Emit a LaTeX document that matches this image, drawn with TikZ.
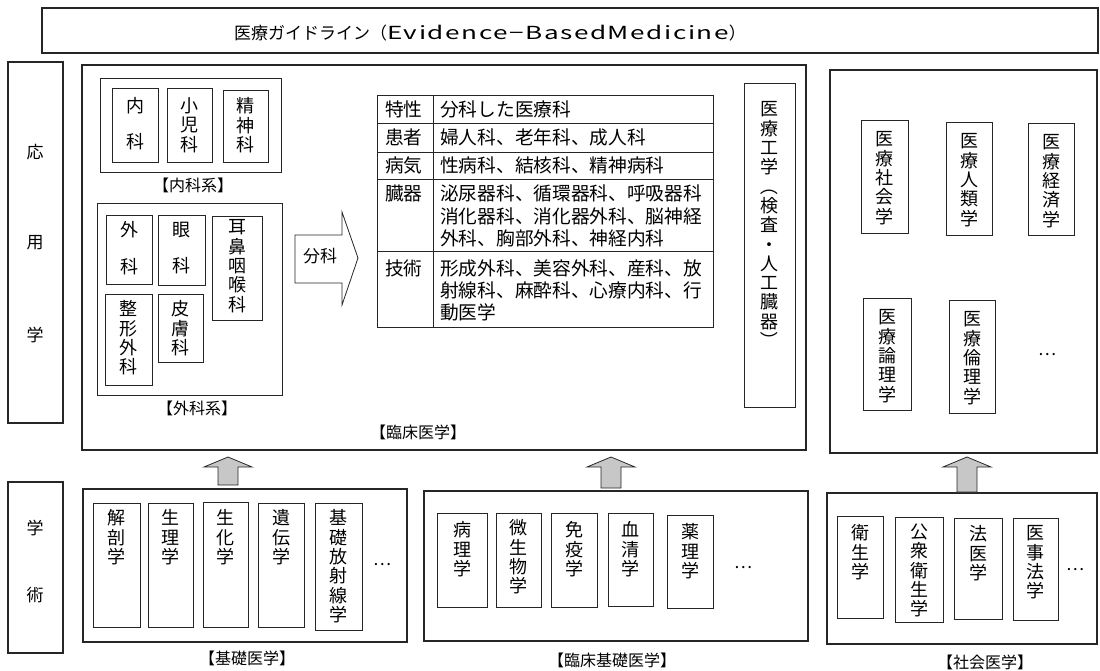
\documentclass[tikz,border=0pt]{standalone}
\usepackage{fontspec}
\setmainfont{Noto Sans CJK JP}
\newfontfamily\latinwide{Noto Sans CJK JP}[LetterSpace=6]
\usepackage{graphicx}
\usetikzlibrary{fit}
\newcommand{\vparL}{\rotatebox[origin=c]{-90}{（}}
\newcommand{\vparR}{\rotatebox[origin=c]{-90}{）}}
\tikzset{
  rbox/.style={draw=black!85, line width=0.8pt, inner sep=0pt},
  obox/.style={draw=black!85, line width=1.1pt, inner sep=0pt},
  hbox/.style={draw=black!85, line width=1.8pt, inner sep=0pt},
  vtext/.style={align=center, font=\fontsize{18}{19.3}\selectfont, inner sep=0pt},
  lbl/.style={font=\fontsize{17}{20}\selectfont, inner sep=0pt},
  blbl/.style={font=\fontsize{16}{20}\selectfont, inner sep=0pt},
  tt/.style={font=\fontsize{18.7}{22}\selectfont, inner sep=0pt, anchor=west},
  uparr/.style={draw=black!85, line width=0.8pt, fill=black!22},
  rarr/.style={draw=black!85, line width=0.8pt, fill=white},
}
\newcommand{\bx}[7][9]{%
  \node[rbox, fit={(#3,#4) (#5,#6)}] (#2) {};
  \node[vtext, anchor=north] (#2t) at ([yshift=-#1pt]#2.north) {#7};}
\begin{document}
\begin{tikzpicture}[x=1pt,y=-1pt]
\useasboundingbox (0,0) rectangle (1100,671);
% banner
\node[hbox, fit={(42,8) (1098,53)}] (banner) {};
\node[lbl] (bannert) at (490,33) {医療ガイドライン（{\latinwide\fontsize{18}{20}\selectfont\scalebox{1.45}[1]{Evidence−BasedMedicine}}）};
% side labels
\node[hbox, fit={(8,62) (63,423)}] (ouyou) {};
\node[lbl] (ou1) at (35,152) {応};
\node[lbl] (ou2) at (35,243) {用};
\node[lbl] (ou3) at (35,335) {学};
\node[hbox, fit={(8,482) (63,653)}] (gaku) {};
\node[lbl] (ga1) at (35,528) {学};
\node[lbl] (ga2) at (35,595) {術};
% clinical medicine
\node[obox, fit={(82,65) (806,450)}] (rinsho) {};
\node[blbl] (rinshol) at (418,432) {【臨床医学】};
\node[rbox, fit={(100,78) (281,172)}] (naikakei) {};
\node[blbl] (naikakeil) at (193,185) {【内科系】};
\bx[10]{naika}{112}{88}{158}{162}{内\\[16pt]科}
\bx[10]{shoni}{167}{88}{212}{162}{小\\児\\科}
\bx[8]{seishin}{223}{90}{268}{162}{精\\神\\科}
\node[rbox, fit={(97,203) (282,395)}] (gekakei) {};
\node[blbl] (gekakeil) at (197,408) {【外科系】};
\bx[7]{geka}{106}{215}{152}{284}{外\\[17pt]科}
\bx[7]{ganka}{158}{215}{205}{285}{眼\\[17pt]科}
\bx[4]{jibi}{212}{216}{262}{320}{耳\\鼻\\咽\\喉\\科}
\bx[7]{seikei}{105}{294}{152}{385}{整\\形\\外\\科}
\bx[7]{hifu}{158}{294}{203}{362}{皮\\膚\\科}
% bunka arrow
\draw[rarr] (295,235) -- (342,235) -- (342,212) -- (358,258) -- (342,305)
  -- (342,283) -- (295,283) -- cycle;
\node[lbl] (bunka) at (320,256) {分科};
% table
\node[rbox, fit={(377,95) (713,327)}] (tbl) {};
\draw[black!85, line width=0.8pt] (433,95) -- (433,327);
\foreach \yy in {123,152,179,251}
  \draw[black!85, line width=0.8pt] (377,\yy) -- (713,\yy);
\node[tt] (h1) at (385,109) {特性};
\node[tt] (h2) at (385,137) {患者};
\node[tt] (h3) at (385,165) {病気};
\node[tt] (h4) at (385,193) {臓器};
\node[tt] (h5) at (385,268) {技術};
\node[tt] (d1) at (440,109) {分科した医療科};
\node[tt] (d2) at (440,137) {婦人科、老年科、成人科};
\node[tt] (d3) at (440,165) {性病科、結核科、精神病科};
\node[tt] (d4a) at (440,193) {泌尿器科、循環器科、呼吸器科};
\node[tt] (d4b) at (440,216) {消化器科、消化器外科、脳神経};
\node[tt] (d4c) at (440,238) {外科、胸部外科、神経内科};
\node[tt] (d5a) at (440,268) {形成外科、美容外科、産科、放};
\node[tt] (d5b) at (440,290) {射線科、麻酔科、心療内科、行};
\node[tt] (d5c) at (440,312) {動医学};
% engineering
\bx[19]{kougaku}{744}{83}{795}{407}{医\\療\\工\\学\\\vparL\\検\\査\\・\\人\\工\\臓\\器\\\vparR}
% social applied
\node[obox, fit={(830,70) (1097,453)}] (shakaiapp) {};
\bx[12]{shakaig}{861}{120}{908}{233}{医\\療\\社\\会\\学}
\bx[12]{jinrui}{946}{122}{992}{235}{医\\療\\人\\類\\学}
\bx[12]{keizai}{1028}{123}{1074}{235}{医\\療\\経\\済\\学}
\bx[12]{ronri}{863}{298}{911}{410}{医\\療\\論\\理\\学}
\bx[12]{rinri}{949}{300}{995}{413}{医\\療\\倫\\理\\学}
\node[lbl] (dots1) at (1047,355) {…};
% basic medicine
\node[obox, fit={(83,489) (407,642)}] (kiso) {};
\node[blbl] (kisol) at (247,658) {【基礎医学】};
\bx[7]{kaibo}{93}{503}{140}{627}{解\\剖\\学}
\bx[7]{seiri}{148}{503}{193}{627}{生\\理\\学}
\bx[8]{seika}{203}{502}{248}{627}{生\\化\\学}
\bx[7]{iden}{258}{503}{304}{627}{遺\\伝\\学}
\bx[7]{hoshasen}{315}{503}{362}{630}{基\\礎\\放\\射\\線\\学}
\node[lbl] (dots2) at (382,565) {…};
% clinical basic
\node[obox, fit={(424,491) (808,641)}] (rinkiso) {};
\node[blbl] (rinkisol) at (612,660) {【臨床基礎医学】};
\bx[9]{byori}{437}{513}{487}{607}{病\\理\\学}
\bx[7]{biseibutsu}{496}{513}{541}{607}{微\\生\\物\\学}
\bx[9]{meneki}{551}{513}{597}{607}{免\\疫\\学}
\bx[9]{kessei}{608}{513}{653}{606}{血\\清\\学}
\bx[9]{yakuri}{667}{515}{713}{608}{薬\\理\\学}
\node[lbl] (dots3) at (743,568) {…};
% social medicine
\node[obox, fit={(827,493) (1097,644)}] (shakai) {};
\node[blbl] (shakail) at (985,662) {【社会医学】};
\bx[9]{eisei}{837}{516}{883}{618}{衛\\生\\学}
\bx[7]{koshu}{895}{517}{943}{622}{公\\衆\\衛\\生\\学}
\bx[8]{hoi}{954}{518}{1002}{619}{法\\医\\学}
\bx[8]{ijiho}{1013}{518}{1058}{620}{医\\事\\法\\学}
\node[lbl] (dots4) at (1075,570) {…};
% up arrows
\foreach \cx/\yb in {228/485, 611/488, 967/492}
  \draw[uparr] (\cx-10,\yb) -- (\cx+10,\yb) -- (\cx+10,467) -- (\cx+24,467)
    -- (\cx,457) -- (\cx-24,467) -- (\cx-10,467) -- cycle;
\end{tikzpicture}
\end{document}
